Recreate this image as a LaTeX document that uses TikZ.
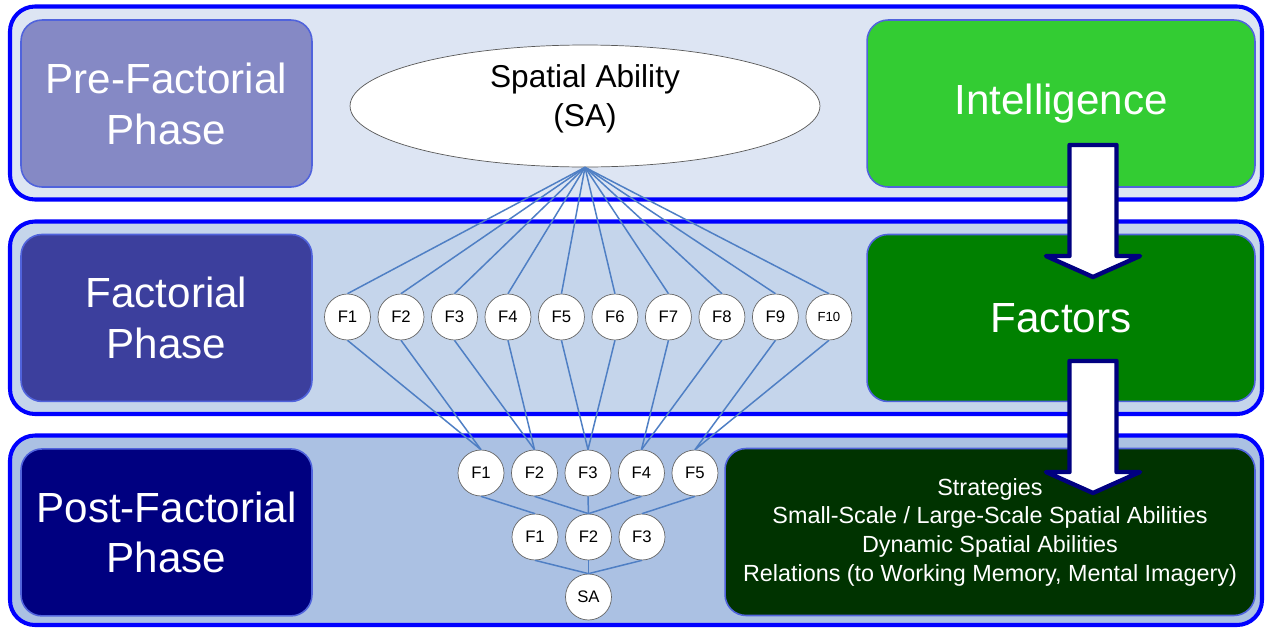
\documentclass[tikz,border=0pt]{standalone}
\usepackage{fontspec}
\setmainfont{Liberation Sans}
\usepackage{tikz}
\usetikzlibrary{arrows,shapes.geometric}
\usetikzlibrary{positioning}

\definecolor{bandline}{HTML}{0000FF}
\definecolor{bandone}{HTML}{DDE5F3}
\definecolor{bandtwo}{HTML}{C5D5EB}
\definecolor{bandthree}{HTML}{ABC1E3}
\definecolor{boxline}{HTML}{5063DC}
\definecolor{prefill}{HTML}{8589C5}
\definecolor{factfill}{HTML}{3C3F9D}
\definecolor{postfill}{HTML}{000080}
\definecolor{intelfill}{HTML}{33CC33}
\definecolor{factorsfill}{HTML}{008000}
\definecolor{stratfill}{HTML}{003300}
\definecolor{linkblue}{HTML}{4F7FC4}
\definecolor{arrownavy}{HTML}{000080}

\tikzset{
    font={\fontsize{9.5pt}{11pt}\selectfont},
    band/.style={
           rounded corners=0.5cm,
           draw=bandline, line width=2.3pt,
           },
    phase/.style={
           rectangle,
           rounded corners=0.42cm,
           draw=boxline, line width=0.9pt,
           minimum width=5.82cm,
           minimum height=3.34cm,
           text=white,
           align=center,
           font={\fontsize{24pt}{29pt}\selectfont},
           },
    factor/.style={
           circle,
           draw=gray!80!black, thin,
           fill=white,
           minimum size=0.92cm,
           inner sep=0pt,
           },
    link/.style={draw=linkblue, line width=0.85pt},
    bigarrow/.style={draw=arrownavy, fill=white, line width=2.5pt, line join=round},
}

\begin{document}
\begin{tikzpicture}[x=0.02cm,y=-0.02cm]

\useasboundingbox (0,0) rectangle (1268,629);

% the three horizontal bands
\draw[band, fill=bandone]   (10,6.5)   rectangle (1262,199.5);
\draw[band, fill=bandtwo]   (10,221.5) rectangle (1262,414);
\draw[band, fill=bandthree] (10,435.5) rectangle (1262,625);

% phases on the left
\node[phase, fill=prefill] (PRE) at (166.5,103.5) {Pre-Factorial\\Phase};
\node[phase, fill=factfill, below of=PRE, node distance=4.29cm] (FACTORIAL) {Factorial\\Phase};
\node[phase, fill=postfill, below of=FACTORIAL, node distance=4.29cm] (POST) {Post-Factorial\\Phase};

% views on the right
\node[phase, fill=intelfill, minimum width=7.76cm] (INTEL) at (1061,103.5) {Intelligence};
\node[phase, fill=factorsfill, minimum width=7.76cm, below of=INTEL, node distance=4.29cm] (FACTORS) {Factors};
\node[phase, fill=stratfill, minimum width=10.6cm,
      font={\fontsize{13.3pt}{16.3pt}\selectfont}] (STRATEGIES) at (990,532) {%
    Strategies\\
    Small-Scale / Large-Scale Spatial Abilities\\
    Dynamic Spatial Abilities\\
    Relations (to Working Memory, Mental Imagery)
};

% State: the single ability on top
\node[ellipse, draw=gray!70!black, thin, fill=white, inner sep=0pt,
      minimum width=9.4cm, minimum height=2.44cm, align=center, text depth=0.41cm,
      font={\fontsize{18pt}{22pt}\selectfont}] (SA) at (585,106) {Spatial Ability\\(SA)};

% first order factors
\node[factor] (UF1) at (347.5,317) {F1};
\node[factor, right of=UF1, node distance=1.07cm] (UF2) {F2};
\node[factor, right of=UF2, node distance=1.07cm] (UF3) {F3};
\node[factor, right of=UF3, node distance=1.07cm] (UF4) {F4};
\node[factor, right of=UF4, node distance=1.07cm] (UF5) {F5};
\node[factor, right of=UF5, node distance=1.07cm] (UF6) {F6};
\node[factor, right of=UF6, node distance=1.07cm] (UF7) {F7};
\node[factor, right of=UF7, node distance=1.07cm] (UF8) {F8};
\node[factor, right of=UF8, node distance=1.07cm] (UF9) {F9};
\node[factor, right of=UF9, node distance=1.07cm,
      font={\fontsize{7.5pt}{9pt}\selectfont}] (UF10) {F10};

% hierarchy below
\node[factor] (MF1) at (481,473) {F1};
\node[factor, right of=MF1, node distance=1.07cm] (MF2) {F2};
\node[factor, right of=MF2, node distance=1.07cm] (MF3) {F3};
\node[factor, right of=MF3, node distance=1.07cm] (MF4) {F4};
\node[factor, right of=MF4, node distance=1.07cm] (MF5) {F5};

\node[factor] (LF1) at (535,537) {F1};
\node[factor, right of=LF1, node distance=1.07cm] (LF2) {F2};
\node[factor, right of=LF2, node distance=1.07cm] (LF3) {F3};

\node[factor, below of=LF2, node distance=1.2cm] (SAROOT) {SA};

\path (SA.south) edge[link] (UF1.north)
(SA.south) edge[link] (UF2.north)
(SA.south) edge[link] (UF3.north)
(SA.south) edge[link] (UF4.north)
(SA.south) edge[link] (UF5.north)
(SA.south) edge[link] (UF6.north)
(SA.south) edge[link] (UF7.north)
(SA.south) edge[link] (UF8.north)
(SA.south) edge[link] (UF9.north)
(SA.south) edge[link] (UF10.north)
(UF1.south) edge[link] (MF1.north)
(UF2.south) edge[link] (MF1.north)
(UF3.south) edge[link] (MF2.north)
(UF4.south) edge[link] (MF2.north)
(UF5.south) edge[link] (MF3.north)
(UF6.south) edge[link] (MF3.north)
(UF7.south) edge[link] (MF4.north)
(UF8.south) edge[link] (MF4.north)
(UF9.south) edge[link] (MF5.north)
(UF10.south) edge[link] (MF5.north)
(MF1.south) edge[link] (LF1.north)
(MF2.south) edge[link] (LF2.north)
(MF3.south) edge[link] (LF2.north)
(MF4.south) edge[link] (LF2.north)
(MF5.south) edge[link] (LF3.north)
(LF1.south) edge[link] (SAROOT.north)
(LF2.south) edge[link] (SAROOT.north)
(LF3.south) edge[link] (SAROOT.north)
;

% block arrows down the right side
\draw[bigarrow] (1069.5,145) -- (1069.5,256) -- (1046,256) -- (1093,277)
    -- (1140,256) -- (1116.5,256) -- (1116.5,145) -- cycle;
\draw[bigarrow] (1069.5,361) -- (1069.5,472) -- (1046,472) -- (1093,493)
    -- (1140,472) -- (1116.5,472) -- (1116.5,361) -- cycle;

\end{tikzpicture}
\end{document}
